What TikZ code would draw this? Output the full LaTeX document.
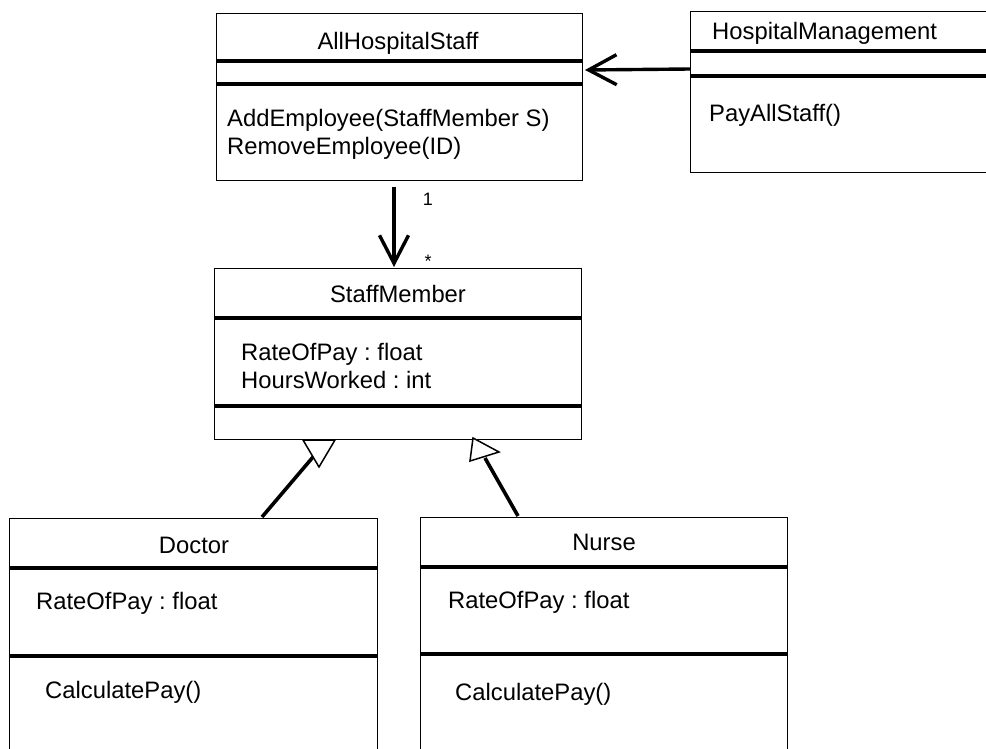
\documentclass[tikz,border=0pt]{standalone}
\usepackage{fontspec}
\setmainfont{Liberation Sans}
\usetikzlibrary{arrows.meta}
\frenchspacing
\begin{document}
\begin{tikzpicture}[x=1pt,y=-1pt,
  classbox/.style={draw=black,line width=1.3pt,fill=white,inner sep=0pt,anchor=north west},
  divider/.style={line width=3.2pt},
  txt/.style={inner sep=0pt,font=\fontsize{23.8}{28}\selectfont},
  mult/.style={inner sep=0pt,font=\fontsize{18}{20}\selectfont},
  assoc/.style={line width=3.4pt,-{Straight Barb[length=28pt,width=#1,line width=3.4pt]}},
  gen/.style={line width=3.6pt},
  tri/.style={draw=black,line width=1.5pt,fill=white,line join=miter}]
\useasboundingbox (0,0) rectangle (986,749);
\fill[white] (0,0) rectangle (986,749);

% AllHospitalStaff
\node[classbox,minimum width=366,minimum height=167] (ahs) at (216,13) {};
\draw[divider] (216,61) -- (582,61);
\draw[divider] (216,84) -- (582,84);
\node[txt,anchor=base] (ahsT) at (398,50) {AllHospitalStaff};
\node[txt,anchor=base west] (ahsM1) at (227,127) {AddEmployee(StaffMember S)};
\node[txt,anchor=base west] (ahsM2) at (227,155) {RemoveEmployee(ID)};

% HospitalManagement
\node[classbox,minimum width=320,minimum height=161] (hm) at (690,11) {};
\draw[divider] (690,51) -- (1010,51);
\draw[divider] (690,76) -- (1010,76);
\node[txt,anchor=base west] (hmT) at (712,40) {HospitalManagement};
\node[txt,anchor=base west] (hmM1) at (709,122) {PayAllStaff()};

% StaffMember
\node[classbox,minimum width=367,minimum height=171] (sm) at (214,268) {};
\draw[divider] (214,318) -- (581,318);
\draw[divider] (214,406) -- (581,406);
\node[txt,anchor=base] (smT) at (398,302) {StaffMember};
\node[txt,anchor=base west] (smA1) at (241,360) {RateOfPay : float};
\node[txt,anchor=base west] (smA2) at (241,388) {HoursWorked : int};

% Doctor
\node[classbox,minimum width=368,minimum height=260] (doc) at (9,518) {};
\draw[divider] (9,568) -- (377,568);
\draw[divider] (9,656) -- (377,656);
\node[txt,anchor=base] (docT) at (194,553) {Doctor};
\node[txt,anchor=base west] (docA) at (36,609) {RateOfPay : float};
\node[txt,anchor=base west] (docM) at (45,698) {CalculatePay()};

% Nurse
\node[classbox,minimum width=367,minimum height=260] (nur) at (420,517) {};
\draw[divider] (420,567) -- (787,567);
\draw[divider] (420,654) -- (787,654);
\node[txt,anchor=base] (nurT) at (604,550) {Nurse};
\node[txt,anchor=base west] (nurA) at (448,608) {RateOfPay : float};
\node[txt,anchor=base west] (nurM) at (455,700) {CalculatePay()};

% association HospitalManagement -> AllHospitalStaff
\coordinate (hmW) at (690,69);
\coordinate (ahsE) at (585,70);
\draw[assoc=30pt] (hmW) -- (ahsE);

% association AllHospitalStaff -> StaffMember
\coordinate (ahsS) at (394,187);
\coordinate (smN) at (394,267);
\draw[assoc=29pt] (ahsS) -- (smN);
\node[mult,anchor=base] (m1) at (428,206) {1};
\node[mult,anchor=base] (m2) at (428,267) {*};

% generalization Doctor -> StaffMember
\coordinate (docN) at (262,517);
\coordinate (docG) at (313,457);
\draw[gen] (docN) -- (docG);
\draw[tri] (303,440) -- (335,440) -- (319,467) -- cycle;

% generalization Nurse -> StaffMember
\coordinate (nurN) at (518,516);
\coordinate (nurG) at (485,458);
\draw[gen] (nurN) -- (nurG);
\draw[tri] (473,438) -- (499,452) -- (470,461) -- cycle;
\end{tikzpicture}
\end{document}
